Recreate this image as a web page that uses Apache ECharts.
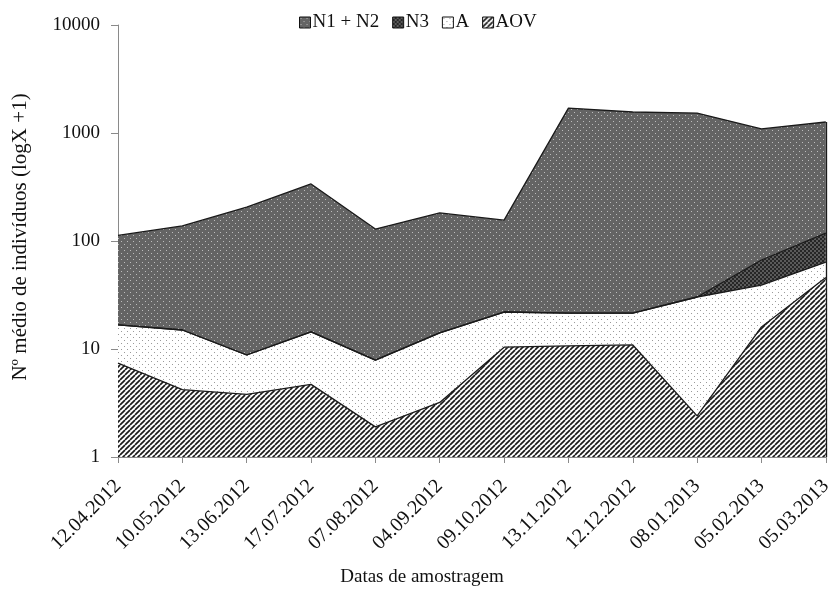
<!DOCTYPE html>
<html>
<head>
<meta charset="utf-8">
<script src="https://cdn.jsdelivr.net/npm/echarts@6/dist/echarts.min.js"></script>
<style>
  html, body { margin: 0; padding: 0; background: #fff; }
  #chart { width: 835px; height: 602px; }
</style>
</head>
<body>
<div id="chart"></div>
<script>
// Sampling dates
const dates = ['12.04.2012', '10.05.2012', '13.06.2012', '17.07.2012', '07.08.2012', '04.09.2012',
               '09.10.2012', '13.11.2012', '12.12.2012', '08.01.2013', '05.02.2013', '05.03.2013'];

// Mean number of individuals per stage (stacked, log axis)
const aov   = [7.4, 4.2, 3.8, 4.7, 1.9, 3.2, 10.4, 10.7, 10.9, 2.4, 16, 46];
const adult = [9.3, 10.8, 5.0, 9.7, 6.0, 10.9, 11.6, 10.8, 10.6, 27.9, 23.1, 17.6];
const n3    = [0, 0, 0, 0, 0, 0, 0, 0, 0, 0, 27.6, 54.6];
const n12   = [96, 123, 197, 323, 121, 168, 134, 1679, 1544, 1500, 1023, 1146];

const yTicks = [1, 10, 100, 1000, 10000];

// Fill patterns built on small canvases
function tile(size, draw) {
  const c = document.createElement('canvas');
  c.width = size; c.height = size;
  const g = c.getContext('2d');
  draw(g, size);
  return { image: c, repeat: 'repeat' };
}
const patN12 = tile(6, (g, s) => {
  g.fillStyle = '#646464'; g.fillRect(0, 0, s, s);
  g.fillStyle = '#bcbcbc'; g.fillRect(1, 1, 1, 1); g.fillRect(4, 4, 1, 1);
});
const patN3 = tile(4, (g, s) => {
  g.fillStyle = '#262626'; g.fillRect(0, 0, s, s);
  g.fillStyle = '#5a5a5a'; g.fillRect(0, 0, 2, 2); g.fillRect(2, 2, 2, 2);
});
const patA = tile(6, (g, s) => {
  g.fillStyle = '#ffffff'; g.fillRect(0, 0, s, s);
  g.fillStyle = '#9a9a9a'; g.fillRect(1, 1, 1, 1); g.fillRect(4, 4, 1, 1);
});
const patAOV = tile(5, (g, s) => {
  g.fillStyle = '#ffffff'; g.fillRect(0, 0, s, s);
  g.strokeStyle = '#1a1a1a'; g.lineWidth = 1.7;
  for (let k = -1; k <= 1; k++) {
    g.beginPath(); g.moveTo(k * s, s); g.lineTo(k * s + s, 0); g.stroke();
  }
});

const font = '"Liberation Serif", "Times New Roman", serif';
const last = dates.length - 1;
const lastTotal = aov[last] + adult[last] + n3[last] + n12[last];

function layer(name, data, pat) {
  return {
    name: name, type: 'line', stack: 'total', data: data,
    symbol: 'none', smooth: false,
    lineStyle: { color: '#1a1a1a', width: 1.3 },
    itemStyle: { color: pat, borderColor: '#1a1a1a' },
    areaStyle: { color: pat, opacity: 1 },
    emphasis: { disabled: true }
  };
}

const topLayer = layer('N1 + N2', n12, patN12);
// closing edge of the stacked areas on the last date
topLayer.markLine = {
  silent: true, symbol: 'none', label: { show: false },
  lineStyle: { color: '#1a1a1a', width: 1.3, type: 'solid' },
  data: [[{ coord: [dates[last], 1] }, { coord: [dates[last], lastTotal] }]]
};

const chart = echarts.init(document.getElementById('chart'), null, { renderer: 'canvas' });
chart.setOption({
  animation: false,
  backgroundColor: '#ffffff',
  textStyle: { fontFamily: font },
  legend: {
    top: 8, left: 294, itemWidth: 11, itemHeight: 11, itemGap: 13,
    icon: 'rect',
    textStyle: { fontFamily: font, fontSize: 19, color: '#111', padding: [0, 0, 0, -3] },
    data: [
      { name: 'N1 + N2', itemStyle: { color: patN12, borderColor: '#111', borderWidth: 1 } },
      { name: 'N3', itemStyle: { color: patN3, borderColor: '#111', borderWidth: 1 } },
      { name: 'A', itemStyle: { color: patA, borderColor: '#111', borderWidth: 1 } },
      { name: 'AOV', itemStyle: { color: patAOV, borderColor: '#111', borderWidth: 1 } }
    ]
  },
  graphic: [
    {
      type: 'text', x: 422, y: 577,
      style: { text: 'Datas de amostragem', font: '19px ' + font, fill: '#111',
               textAlign: 'center', textVerticalAlign: 'middle' }
    },
    {
      type: 'text', x: 20, y: 237, rotation: Math.PI / 2,
      style: { text: 'Nº médio de indivíduos (logX +1)', font: '21px ' + font, fill: '#111',
               textAlign: 'center', textVerticalAlign: 'middle' }
    }
  ],
  grid: { left: 118, right: 3, top: 25, bottom: 145, containLabel: false },
  xAxis: {
    type: 'category', data: dates, boundaryGap: false,
    axisLine: { lineStyle: { color: '#8a8a8a', width: 1 } },
    axisTick: { lineStyle: { color: '#8a8a8a' }, length: 6, alignWithLabel: true },
    axisLabel: { rotate: 45, fontFamily: font, fontSize: 20, color: '#111', margin: 26, interval: 0 }
  },
  yAxis: {
    type: 'log', logBase: 10, min: 1, max: 10000,
    axisLine: { show: true, lineStyle: { color: '#8a8a8a', width: 1 } },
    axisTick: { show: true, lineStyle: { color: '#8a8a8a' }, length: 7 },
    splitLine: { show: false },
    axisLabel: {
      fontFamily: font, fontSize: 19, color: '#111', margin: 18,
      formatter: v => (yTicks.includes(Math.round(v)) ? String(Math.round(v)) : '')
    }
  },
  series: [
    layer('AOV', aov, patAOV),
    layer('A', adult, patA),
    layer('N3', n3, patN3),
    topLayer
  ]
});
</script>
</body>
</html>
